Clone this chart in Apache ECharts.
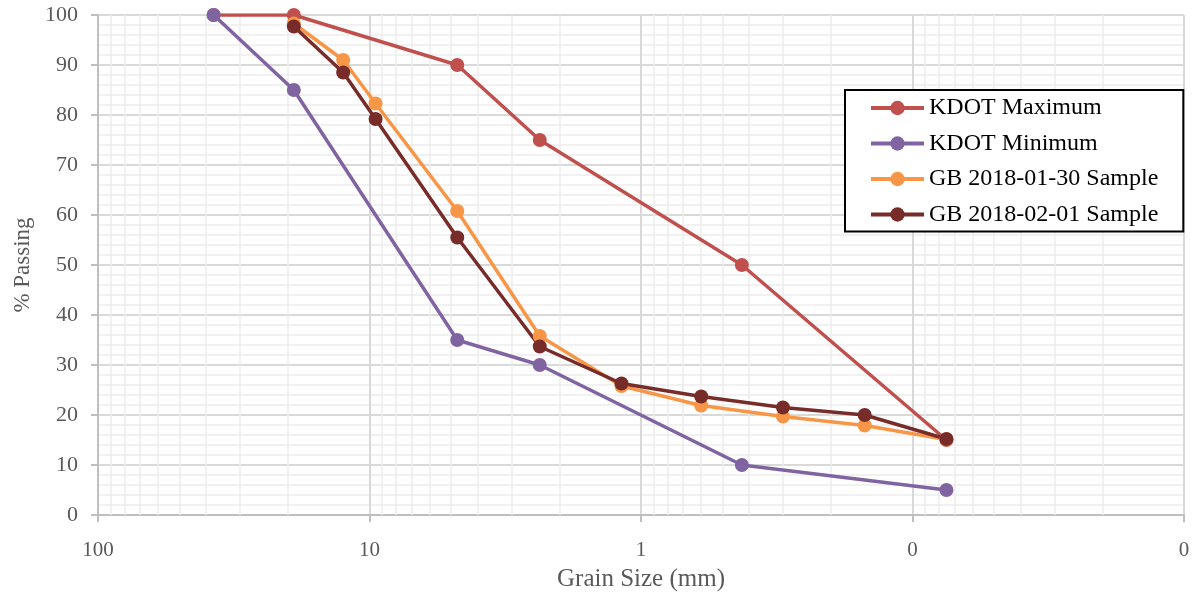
<!DOCTYPE html>
<html>
<head>
<meta charset="utf-8">
<script src="https://cdn.jsdelivr.net/npm/echarts@6/dist/echarts.min.js"></script>
<style>html,body{margin:0;padding:0;background:#fff;}#c{width:1194px;height:597px;}</style>
</head>
<body>
<div id="c"></div>
<script>
// Sieve sizes (mm) and % passing
const kdotSizes = [37.5, 19, 4.75, 2.36, 0.425, 0.075];
const kdotMax = [100, 100, 90, 75, 50, 15];
const kdotMin = [100, 85, 35, 30, 10, 5];
const sampleSizes = [19, 12.5, 9.5, 4.75, 2.36, 1.18, 0.6, 0.3, 0.15, 0.075];
const gb0130 = [98.3, 91, 82.3, 60.8, 35.8, 25.8, 21.9, 19.7, 17.9, 15.1];
const gb0201 = [97.7, 88.5, 79.2, 55.5, 33.7, 26.3, 23.7, 21.5, 20, 15.2];
const seriesNames = ['KDOT Maximum', 'KDOT Minimum', 'GB 2018-01-30 Sample', 'GB 2018-02-01 Sample'];
const minorGridX = [90, 80, 70, 60, 50, 40, 30, 20,
  9, 8, 7, 6, 5, 4, 3, 2,
  0.9, 0.8, 0.7, 0.6, 0.5, 0.4, 0.3, 0.2,
  0.09, 0.08, 0.07, 0.06, 0.05, 0.04, 0.03, 0.02];

const colors = ['#C0504D', '#8064A2', '#F79646', '#772C2A'];
const FONT = 'Liberation Serif';

function pairs(xs, ys) { return xs.map((x, i) => [x, ys[i]]); }

const chart = echarts.init(document.getElementById('c'));
function lineSeries(name, xs, ys, color) {
  return {
    name: name, type: 'line', data: pairs(xs, ys), z: 3,
    symbol: 'circle', symbolSize: 14,
    itemStyle: { color: color },
    lineStyle: { color: color, width: 3.5 },
    emphasis: { disabled: true }
  };
}
chart.setOption({
  animation: false,
  textStyle: { fontFamily: FONT },
  grid: { left: 98, right: 10, top: 15, bottom: 82, containLabel: false },
  legend: {
    orient: 'vertical', left: 845, top: 90, z: 10,
    data: seriesNames,
    backgroundColor: '#fff',
    borderColor: '#000', borderWidth: 2,
    padding: [6, 25, 5, 24],
    itemWidth: 53, itemHeight: 18, itemGap: 11.5,
    lineStyle: { width: 4 },
    textStyle: { fontFamily: FONT, fontSize: 24, color: '#000', lineHeight: 24 }
  },
  xAxis: {
    type: 'log', logBase: 10, inverse: true, min: 0.01, max: 100,
    name: 'Grain Size (mm)', nameLocation: 'middle', nameGap: 52,
    nameTextStyle: { fontFamily: FONT, fontSize: 25, color: '#595959' },
    axisLine: { show: true, onZero: false, lineStyle: { color: '#BFBFBF', width: 2 } },
    axisTick: { show: true, length: 7, lineStyle: { color: '#BFBFBF', width: 2 } },
    axisLabel: {
      fontFamily: FONT, fontSize: 21, color: '#595959', margin: 25,
      formatter: function (v) { return v >= 1 ? String(Math.round(v)) : '0'; }
    },
    splitLine: { show: true, lineStyle: { color: '#D9D9D9', width: 2 } }
  },
  yAxis: {
    type: 'value', min: 0, max: 100, interval: 10,
    name: '% Passing', nameLocation: 'middle', nameGap: 56,
    nameTextStyle: { fontFamily: FONT, fontSize: 23, color: '#595959' },
    axisLine: { show: true, lineStyle: { color: '#BFBFBF', width: 2 } },
    axisTick: { show: true, length: 7, lineStyle: { color: '#BFBFBF', width: 2 } },
    axisLabel: { fontFamily: FONT, fontSize: 22, color: '#595959', margin: 20 },
    splitLine: { show: true, lineStyle: { color: '#D9D9D9', width: 2 } },
    minorTick: { show: false, splitNumber: 5 },
    minorSplitLine: { show: true, lineStyle: { color: '#EDEDED', width: 1.5 } }
  },
  series: [
    {
      type: 'line', data: [], silent: true, z: 1,
      markLine: {
        z: 1, silent: true, symbol: ['none', 'none'], label: { show: false },
        lineStyle: { color: '#EDEDED', width: 1.5, type: 'solid' },
        emphasis: { disabled: true },
        data: minorGridX.map(v => ({ xAxis: v }))
      }
    },
    lineSeries(seriesNames[0], kdotSizes, kdotMax, colors[0]),
    lineSeries(seriesNames[1], kdotSizes, kdotMin, colors[1]),
    lineSeries(seriesNames[2], sampleSizes, gb0130, colors[2]),
    lineSeries(seriesNames[3], sampleSizes, gb0201, colors[3])
  ]
});
</script>
</body>
</html>
